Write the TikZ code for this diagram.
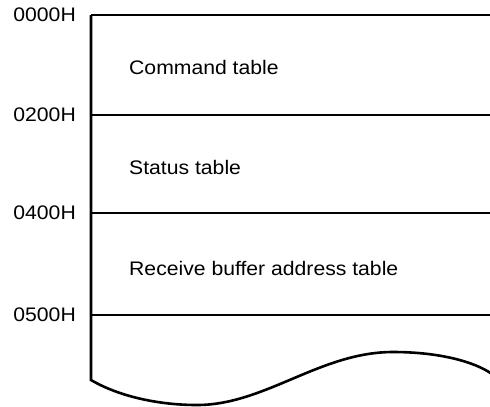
\documentclass[tikz,border=0pt]{standalone}
\usepackage{fontspec}
\setmainfont{Liberation Sans}
\usepackage{graphicx}
\newcommand{\wide}[1]{\scalebox{1.08}[1]{#1}}
\newcommand{\addr}[3]{
\node[anchor=east,inner sep=0pt] (#1) at (76,#2) {\wide{#3}};
\draw[rule] (91,#2)--(490,#2);
}
\newcommand{\area}[3]{
\node[anchor=west,inner sep=0pt] (#1) at (129,#2) {\wide{#3}};
}

\begin{document}
\begin{tikzpicture}[x=1bp,y=-1bp,font=\fontsize{19.6bp}{23bp}\selectfont,
rule/.style={line width=2.6bp}]
\useasboundingbox (0,0) rectangle (490,406);

\addr{a0000}{15}{0000H}
\addr{a0200}{115}{0200H}
\addr{a0400}{213}{0400H}
\addr{a0500}{315}{0500H}

\area{cmd}{67}{Command table}
\area{sts}{167}{Status table}
\area{rcv}{268}{Receive buffer address table}

% left edge, open end at the bottom
\draw[rule] (91,15)--(91,380)
  .. controls (120,397) and (160,405) .. (197,405)
  .. controls (265,405) and (320,352) .. (393,352)
  .. controls (440,352) and (475,362) .. (492,374);

\end{tikzpicture}
\end{document}
